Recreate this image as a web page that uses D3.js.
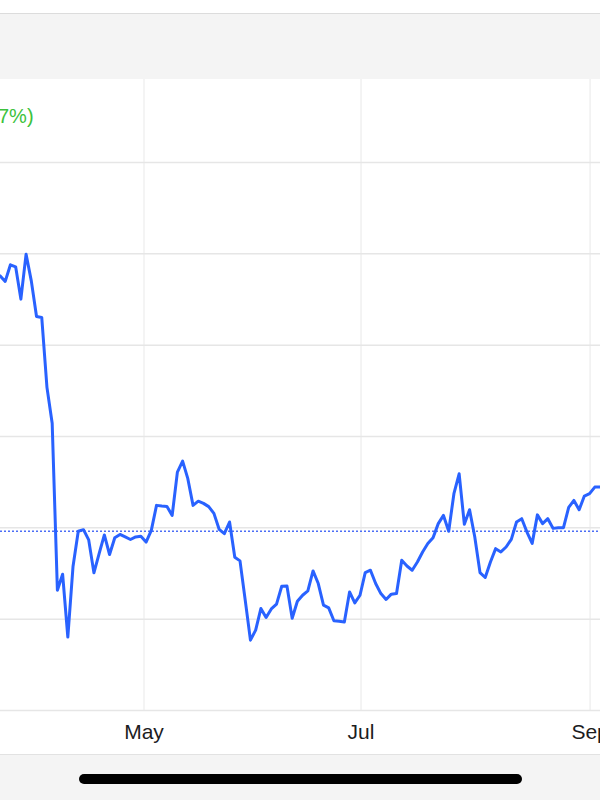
<!DOCTYPE html>
<html>
<head>
  <title>Price Chart</title>
  <style>
    body
    {
      margin: 0;
      background: #ffffff;
    }
  </style>
</head>
<body>
  <script src="https://d3js.org/d3.v7.min.js"></script>
  <script>
// Daily closing prices (one per trading day)
var prices = [
  153.80, 153.49, 154.40, 154.29, 152.52, 154.98, 153.52, 151.57, 151.52, 147.69,
  145.73, 136.58, 137.46, 134.02, 137.90, 139.81, 139.90, 139.34, 137.54, 138.59,
  139.61, 138.54, 139.46, 139.64, 139.50, 139.36, 139.50, 139.54, 139.22, 139.86,
  141.23, 141.19, 141.17, 140.68, 143.05, 143.65, 142.69, 141.23, 141.46, 141.34,
  141.16, 140.79, 139.92, 139.68, 140.32, 138.39, 138.19, 136.04, 133.85, 134.40,
  135.58, 135.09, 135.56, 135.82, 136.80, 136.82, 135.05, 135.98, 136.31, 136.55,
  137.64, 136.95, 135.77, 135.62, 134.91, 134.89, 134.85, 136.49, 135.89, 136.31,
  137.55, 137.68, 136.95, 136.40, 136.08, 136.37, 136.40, 138.22, 137.91, 137.68,
  138.13, 138.68, 139.14, 139.46, 140.23, 140.68, 139.81, 141.87, 142.96, 140.19,
  140.99, 139.50, 137.55, 137.28, 138.13, 138.86, 138.68, 138.95, 139.37, 140.32,
  140.50, 139.77, 139.15, 140.71, 140.23, 140.50, 139.97, 140.01, 140.01, 141.12,
  141.50, 140.99, 141.74, 141.87, 142.23, 142.24
];

// Month ticks (position in trading days) and their labels
var monthIndex = [27.6, 69.2, 113.1];
var monthLabels = ["May", "Jul", "Sep"];

// Price gridlines and the previous close
var gridValues = [130, 135, 140, 145, 150, 155, 160];
var prevClose = 139.81;

var changeText = "7%)";

var svg = d3.select("body")
  .append("svg")
  .attr("width", 600)
  .attr("height", 800);

var xScale = d3.scaleLinear()
  .domain([0, prices.length - 1])
  .range([0, 600]);

var yScale = d3.scaleLinear()
  .domain([130, 160])
  .range([710.5, 162.5]);

// Header band at the top
svg.append("rect")
  .attr("x", 0).attr("y", 13)
  .attr("width", 600).attr("height", 66)
  .attr("fill", "#f4f4f4");
svg.append("line")
  .attr("x1", 0).attr("x2", 600)
  .attr("y1", 13.5).attr("y2", 13.5)
  .attr("stroke", "#dcdcdc");

// Vertical month gridlines
svg.selectAll(".vgrid")
  .data(monthIndex)
  .enter()
  .append("line")
  .attr("class", "vgrid")
  .attr("x1", function(d) { return xScale(d); })
  .attr("x2", function(d) { return xScale(d); })
  .attr("y1", 79)
  .attr("y2", 710)
  .attr("stroke", "#f0f0f0")
  .attr("stroke-width", 1.5);

// Horizontal price gridlines
svg.selectAll(".hgrid")
  .data(gridValues)
  .enter()
  .append("line")
  .attr("class", "hgrid")
  .attr("x1", 0)
  .attr("x2", 600)
  .attr("y1", function(d) { return yScale(d); })
  .attr("y2", function(d) { return yScale(d); })
  .attr("stroke", "#e6e6e6")
  .attr("stroke-width", 1.5);

// Previous close, dotted
svg.append("line")
  .attr("x1", 0).attr("x2", 600)
  .attr("y1", yScale(prevClose)).attr("y2", yScale(prevClose))
  .attr("stroke", "#4d6ef5")
  .attr("stroke-width", 1.5)
  .attr("stroke-dasharray", "2,2");

// Price line
var line = d3.line()
  .x(function(d, i) { return xScale(i); })
  .y(function(d) { return yScale(d); });

svg.append("path")
  .datum(prices)
  .attr("d", line)
  .attr("fill", "none")
  .attr("stroke", "#2962ff")
  .attr("stroke-width", 3)
  .attr("stroke-linejoin", "round")
  .attr("stroke-linecap", "round");

// Change text, cut off at the left
svg.append("text")
  .attr("x", -2)
  .attr("y", 123)
  .attr("font-family", "Liberation Sans, Arial, sans-serif")
  .attr("font-size", 20)
  .attr("fill", "#3cc23c")
  .text(changeText);

// Month axis labels
svg.selectAll(".month")
  .data(monthIndex)
  .enter()
  .append("text")
  .attr("class", "month")
  .attr("x", function(d) { return xScale(d); })
  .attr("y", 739)
  .attr("text-anchor", "middle")
  .attr("font-family", "Liberation Sans, Arial, sans-serif")
  .attr("font-size", 21)
  .attr("fill", "#1c1c1e")
  .text(function(d, i) { return monthLabels[i]; });

// Bottom band with home indicator
svg.append("line")
  .attr("x1", 0).attr("x2", 600)
  .attr("y1", 754.5).attr("y2", 754.5)
  .attr("stroke", "#e2e2e2");
svg.append("rect")
  .attr("x", 0).attr("y", 755)
  .attr("width", 600).attr("height", 45)
  .attr("fill", "#f4f4f4");
svg.append("rect")
  .attr("x", 79).attr("y", 774)
  .attr("width", 443).attr("height", 10)
  .attr("rx", 5)
  .attr("fill", "#000000");
  </script>
</body>
</html>
